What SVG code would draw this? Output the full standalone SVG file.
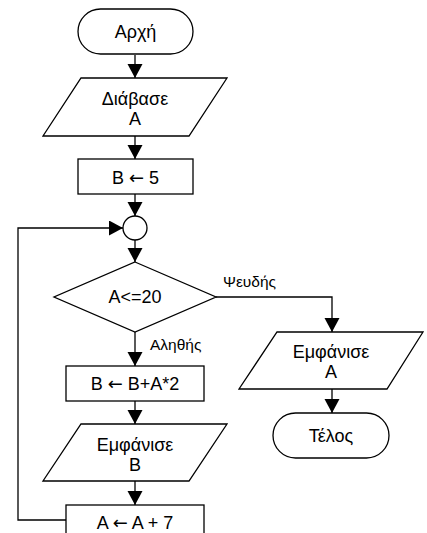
<svg xmlns="http://www.w3.org/2000/svg" width="427" height="533" viewBox="0 0 427 533">
<style>
.s{fill:#fff;stroke:#000;stroke-width:1.3}
.t{font-family:"Liberation Sans",Arial,sans-serif;font-size:18px;fill:#000;text-anchor:middle}
.l{font-family:"Liberation Sans",Arial,sans-serif;font-size:15.5px;fill:#000}
.ar{font-family:"DejaVu Sans",sans-serif}
.c{fill:none;stroke:#000;stroke-width:1.3}
</style>
<defs>
<marker id="a" markerUnits="userSpaceOnUse" markerWidth="16" markerHeight="16" refX="14" refY="7.5" orient="auto">
<path d="M0,0 L14,7.5 L0,15 Z" fill="#000"/>
</marker>
</defs>
<rect width="427" height="533" fill="#fff"/>
<g id="connectors">
<line class="c" x1="135" y1="55" x2="135" y2="78" marker-end="url(#a)"/>
<line class="c" x1="135" y1="136" x2="135" y2="159" marker-end="url(#a)"/>
<line class="c" x1="135" y1="194" x2="135" y2="216" marker-end="url(#a)"/>
<line class="c" x1="135" y1="240" x2="135" y2="262" marker-end="url(#a)"/>
<line class="c" x1="135" y1="332" x2="135" y2="366" marker-end="url(#a)"/>
<line class="c" x1="135" y1="401" x2="135" y2="424" marker-end="url(#a)"/>
<line class="c" x1="135" y1="481" x2="135" y2="505" marker-end="url(#a)"/>
<polyline class="c" points="66,520 18,520 18,228 123,228" marker-end="url(#a)"/>
<polyline class="c" points="216,297 332,297 332,332" marker-end="url(#a)"/>
<line class="c" x1="332" y1="389" x2="332" y2="413" marker-end="url(#a)"/>
<text class="l" x="150" y="350">Αληθής</text>
<text class="l" x="223" y="287">Ψευδής</text>
</g>
<g id="start">
<rect class="s" x="78" y="9" width="115" height="45" rx="22.5"/>
<text class="t" x="135.5" y="38">Αρχή</text>
</g>
<g id="read">
<polygon class="s" points="81,78 227,78 189,136 43,136"/>
<text class="t" x="135" y="105">Διάβασε</text>
<text class="t" x="135" y="125">A</text>
</g>
<g id="assign1">
<rect class="s" x="78" y="159" width="115" height="35"/>
<text class="t" x="135.5" y="184">B <tspan class="ar">←</tspan> 5</text>
</g>
<g id="join">
<circle class="s" cx="135" cy="228" r="12"/>
</g>
<g id="cond">
<polygon class="s" points="135,262 216,297 135,332 54,297"/>
<text class="t" x="135" y="303">A&lt;=20</text>
</g>
<g id="assign2">
<rect class="s" x="66" y="366" width="138" height="35"/>
<text class="t" x="135" y="390">B <tspan class="ar">←</tspan> B+A*2</text>
</g>
<g id="printB">
<polygon class="s" points="81,424 227,424 189,481 43,481"/>
<text class="t" x="135" y="451">Εμφάνισε</text>
<text class="t" x="135" y="471">B</text>
</g>
<g id="assign3">
<rect class="s" x="66" y="505" width="138" height="35"/>
<text class="t" x="135" y="529">A <tspan class="ar">←</tspan> A + 7</text>
</g>
<g id="printA">
<polygon class="s" points="277,332 423,332 387,389 239,389"/>
<text class="t" x="331" y="358">Εμφάνισε</text>
<text class="t" x="331" y="378">A</text>
</g>
<g id="end">
<rect class="s" x="273" y="413" width="116" height="45" rx="22.5"/>
<text class="t" x="331" y="442">Τέλος</text>
</g>
</svg>
